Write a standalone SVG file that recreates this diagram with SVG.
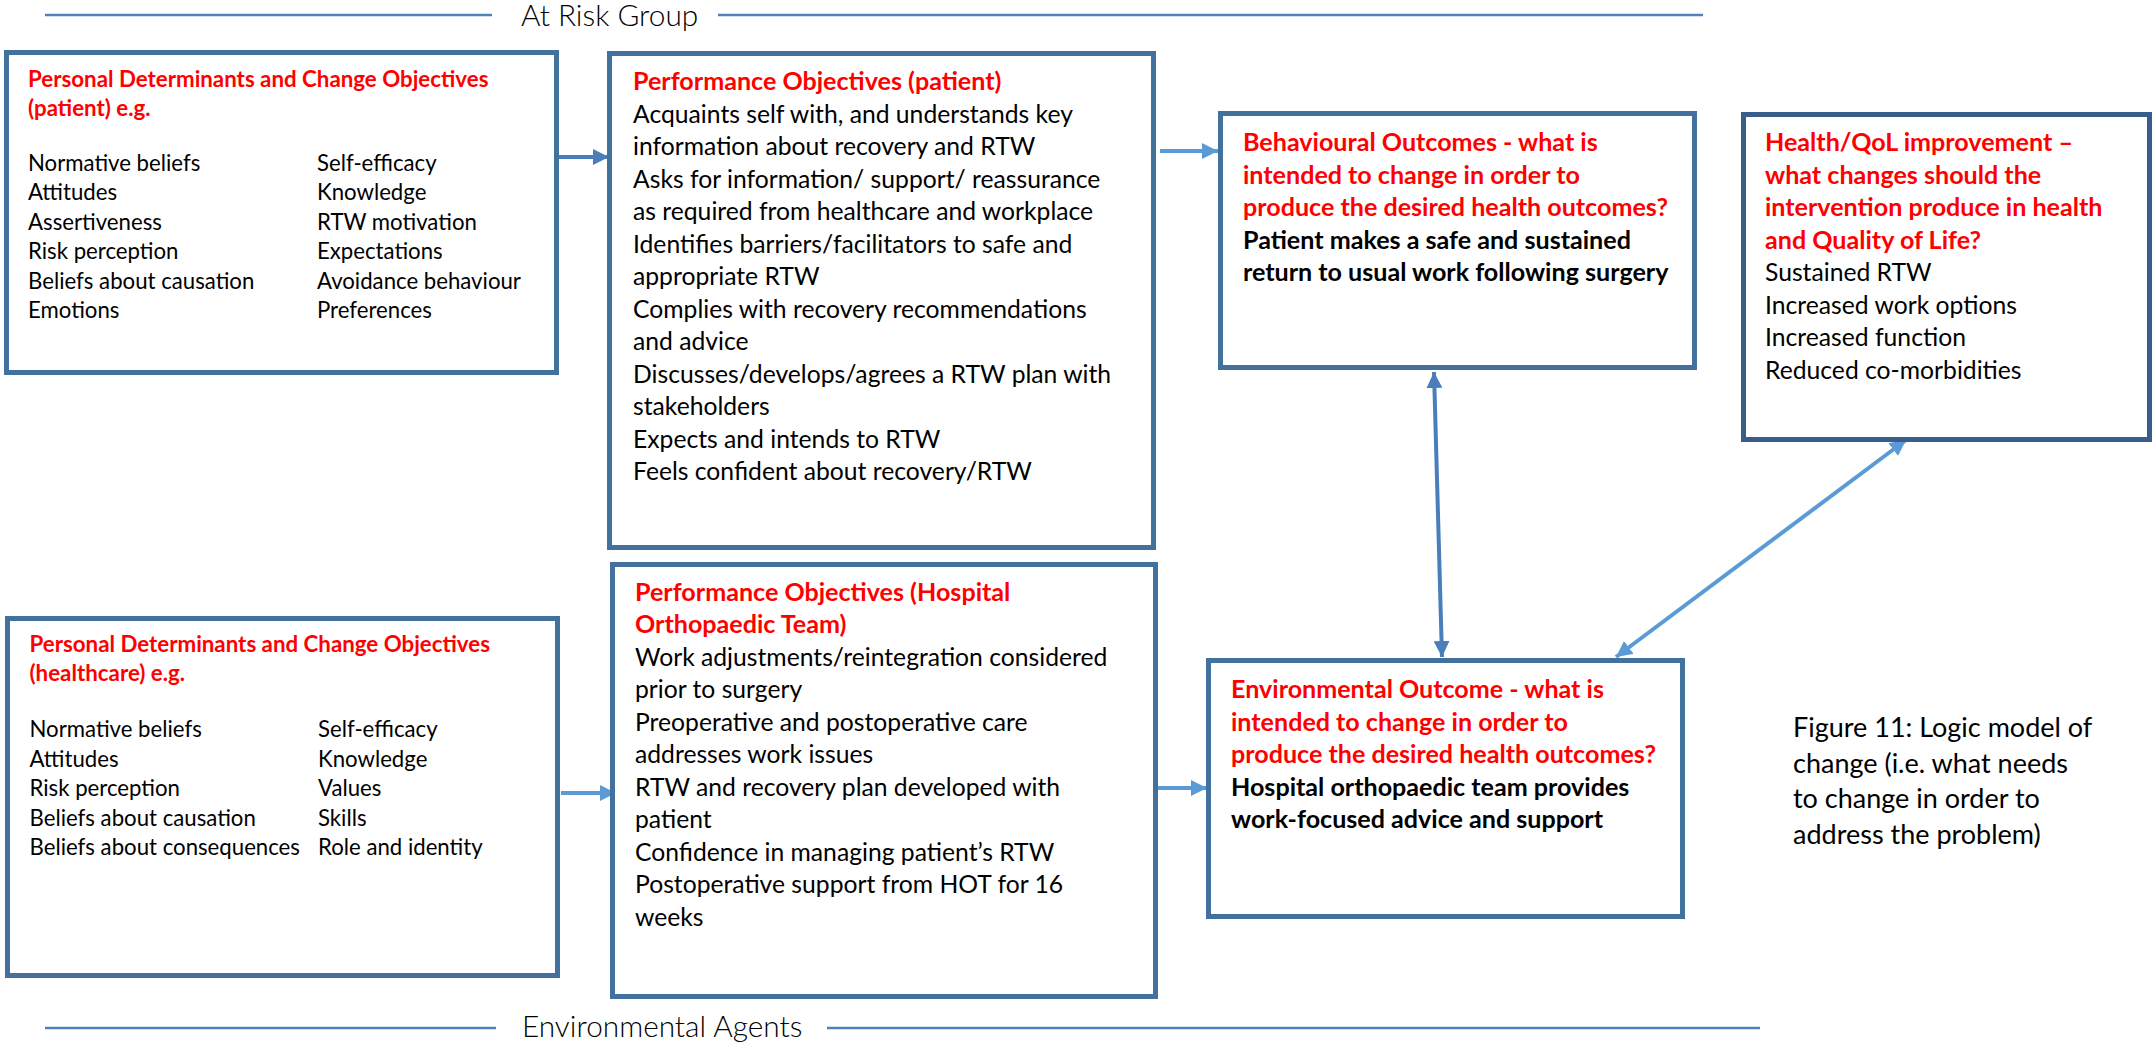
<svg xmlns="http://www.w3.org/2000/svg" width="2156" height="1048" viewBox="0 0 2156 1048">
  <style>
    text { font-family: Lato, "Liberation Sans", "DejaVu Sans", sans-serif; fill: #000000; }
    .sm { font-size: 22.2px; }
    .sm.b { font-size: 22.3px; }
    .md { font-size: 24.7px; }
    .md.b { font-size: 25.1px; }
    .cap { font-size: 27px; }
    .hdr { font-size: 29.8px; font-weight: 300; }
    .b { font-weight: bold; }
    .red { fill: #FF0000; }
    .box { fill: #FFFFFF; stroke: #41719C; stroke-width: 5; }
    .box-dark { fill: #FFFFFF; stroke: #385D8A; stroke-width: 5; }
    .rule { stroke: #4F81BD; stroke-width: 2.5; fill: none; }
    .link-dark { stroke: #4A7EBB; stroke-width: 4; fill: none; }
    .link-light { stroke: #5B9BD5; stroke-width: 4; fill: none; }
  </style>
  <defs>
    <marker id="head-dark" viewBox="0 0 10 10" refX="10" refY="5" markerWidth="16" markerHeight="16" markerUnits="userSpaceOnUse" orient="auto-start-reverse">
      <path d="M0,0 L10,5 L0,10 z" fill="#4A7EBB"/>
    </marker>
    <marker id="head-light" viewBox="0 0 10 10" refX="10" refY="5" markerWidth="16" markerHeight="16" markerUnits="userSpaceOnUse" orient="auto-start-reverse">
      <path d="M0,0 L10,5 L0,10 z" fill="#5B9BD5"/>
    </marker>
  </defs>
  <rect x="0" y="0" width="2156" height="1048" fill="#FFFFFF"/>

  <!-- band labels -->
  <g id="band-top">
    <line class="rule" x1="45" y1="15" x2="492" y2="15"/>
    <text class="hdr" x="521" y="26">At Risk Group</text>
    <line class="rule" x1="718" y1="15" x2="1703" y2="15"/>
  </g>
  <g id="band-bottom">
    <line class="rule" x1="45" y1="1028" x2="496" y2="1028"/>
    <text class="hdr" x="522" y="1037">Environmental Agents</text>
    <line class="rule" x1="827" y1="1028" x2="1760" y2="1028"/>
  </g>

  <!-- connectors -->
  <g id="connectors">
    <line class="link-dark" x1="559" y1="157" x2="609" y2="157" marker-end="url(#head-dark)"/>
    <line class="link-light" x1="1160" y1="151" x2="1218" y2="151" marker-end="url(#head-light)"/>
    <line class="link-dark" x1="1434" y1="372" x2="1442" y2="657" marker-start="url(#head-dark)" marker-end="url(#head-dark)"/>
    <line class="link-light" x1="1906" y1="440" x2="1616" y2="657" marker-start="url(#head-light)" marker-end="url(#head-light)"/>
    <line class="link-light" x1="561" y1="793" x2="616" y2="793" marker-end="url(#head-light)"/>
    <line class="link-light" x1="1154" y1="788" x2="1207" y2="788" marker-end="url(#head-light)"/>
  </g>

  <!-- personal determinants: patient -->
  <g id="determinants-patient">
    <rect class="box" x="6.5" y="52.5" width="550" height="320"/>
    <text class="sm b red">
      <tspan x="28" y="87">Personal Determinants and Change Objectives</tspan>
      <tspan x="28" y="116">(patient) e.g.</tspan>
    </text>
    <text class="sm">
      <tspan x="28" y="171">Normative beliefs</tspan>
      <tspan x="28" y="200.4">Attitudes</tspan>
      <tspan x="28" y="229.8">Assertiveness</tspan>
      <tspan x="28" y="259.2">Risk perception</tspan>
      <tspan x="28" y="288.6">Beliefs about causation</tspan>
      <tspan x="28" y="318">Emotions</tspan>
    </text>
    <text class="sm">
      <tspan x="317" y="171">Self-efficacy</tspan>
      <tspan x="317" y="200.4">Knowledge</tspan>
      <tspan x="317" y="229.8">RTW motivation</tspan>
      <tspan x="317" y="259.2">Expectations</tspan>
      <tspan x="317" y="288.6">Avoidance behaviour</tspan>
      <tspan x="317" y="318">Preferences</tspan>
    </text>
  </g>

  <!-- performance objectives: patient -->
  <g id="performance-patient">
    <rect class="box" x="609.5" y="53.5" width="544" height="494"/>
    <text class="md b red" x="633" y="90">Performance Objectives (patient)</text>
    <text class="md">
      <tspan x="633" y="122.5">Acquaints self with, and understands key</tspan>
      <tspan x="633" y="155">information about recovery and RTW</tspan>
      <tspan x="633" y="187.5">Asks for information/ support/ reassurance</tspan>
      <tspan x="633" y="220">as required from healthcare and workplace</tspan>
      <tspan x="633" y="252.5">Identifies barriers/facilitators to safe and</tspan>
      <tspan x="633" y="285">appropriate RTW</tspan>
      <tspan x="633" y="317.5">Complies with recovery recommendations</tspan>
      <tspan x="633" y="350">and advice</tspan>
      <tspan x="633" y="382.5">Discusses/develops/agrees a RTW plan with</tspan>
      <tspan x="633" y="415">stakeholders</tspan>
      <tspan x="633" y="447.5">Expects and intends to RTW</tspan>
      <tspan x="633" y="480">Feels confident about recovery/RTW</tspan>
    </text>
  </g>

  <!-- behavioural outcomes -->
  <g id="behavioural-outcomes">
    <rect class="box" x="1220.5" y="113.5" width="474" height="254"/>
    <text class="md b red">
      <tspan x="1243" y="151">Behavioural Outcomes - what is</tspan>
      <tspan x="1243" y="183.5">intended to change in order to</tspan>
      <tspan x="1243" y="216">produce the desired health outcomes?</tspan>
    </text>
    <text class="md b">
      <tspan x="1243" y="248.5">Patient makes a safe and sustained</tspan>
      <tspan x="1243" y="281">return to usual work following surgery</tspan>
    </text>
  </g>

  <!-- health / quality of life -->
  <g id="health-qol">
    <rect class="box-dark" x="1743.5" y="114.5" width="406" height="325"/>
    <text class="md b red">
      <tspan x="1765" y="151">Health/QoL improvement –</tspan>
      <tspan x="1765" y="183.5">what changes should the</tspan>
      <tspan x="1765" y="216">intervention produce in health</tspan>
      <tspan x="1765" y="248.5">and Quality of Life?</tspan>
    </text>
    <text class="md">
      <tspan x="1765" y="281">Sustained RTW</tspan>
      <tspan x="1765" y="313.5">Increased work options</tspan>
      <tspan x="1765" y="346">Increased function</tspan>
      <tspan x="1765" y="378.5">Reduced co-morbidities</tspan>
    </text>
  </g>

  <!-- personal determinants: healthcare -->
  <g id="determinants-healthcare">
    <rect class="box" x="7.5" y="618.5" width="550" height="357"/>
    <text class="sm b red">
      <tspan x="29.5" y="652">Personal Determinants and Change Objectives</tspan>
      <tspan x="29.5" y="681">(healthcare) e.g.</tspan>
    </text>
    <text class="sm">
      <tspan x="29.5" y="737">Normative beliefs</tspan>
      <tspan x="29.5" y="766.5">Attitudes</tspan>
      <tspan x="29.5" y="796">Risk perception</tspan>
      <tspan x="29.5" y="825.5">Beliefs about causation</tspan>
      <tspan x="29.5" y="855">Beliefs about consequences</tspan>
    </text>
    <text class="sm">
      <tspan x="318" y="737">Self-efficacy</tspan>
      <tspan x="318" y="766.5">Knowledge</tspan>
      <tspan x="318" y="796">Values</tspan>
      <tspan x="318" y="825.5">Skills</tspan>
      <tspan x="318" y="855">Role and identity</tspan>
    </text>
  </g>

  <!-- performance objectives: hospital orthopaedic team -->
  <g id="performance-hot">
    <rect class="box" x="612.5" y="564.5" width="543" height="432"/>
    <text class="md b red">
      <tspan x="635" y="600.5">Performance Objectives (Hospital</tspan>
      <tspan x="635" y="633">Orthopaedic Team)</tspan>
    </text>
    <text class="md">
      <tspan x="635" y="665.5">Work adjustments/reintegration considered</tspan>
      <tspan x="635" y="698">prior to surgery</tspan>
      <tspan x="635" y="730.5">Preoperative and postoperative care</tspan>
      <tspan x="635" y="763">addresses work issues</tspan>
      <tspan x="635" y="795.5">RTW and recovery plan developed with</tspan>
      <tspan x="635" y="828">patient</tspan>
      <tspan x="635" y="860.5">Confidence in managing patient’s RTW</tspan>
      <tspan x="635" y="893">Postoperative support from HOT for 16</tspan>
      <tspan x="635" y="925.5">weeks</tspan>
    </text>
  </g>

  <!-- environmental outcome -->
  <g id="environmental-outcome">
    <rect class="box" x="1208.5" y="660.5" width="474" height="256"/>
    <text class="md b red">
      <tspan x="1231" y="698">Environmental Outcome - what is</tspan>
      <tspan x="1231" y="730.5">intended to change in order to</tspan>
      <tspan x="1231" y="763">produce the desired health outcomes?</tspan>
    </text>
    <text class="md b">
      <tspan x="1231" y="795.5">Hospital orthopaedic team provides</tspan>
      <tspan x="1231" y="828">work-focused advice and support</tspan>
    </text>
  </g>

  <!-- figure caption -->
  <g id="caption">
    <text class="cap">
      <tspan x="1793" y="737">Figure 11: Logic model of</tspan>
      <tspan x="1793" y="772.5">change (i.e. what needs</tspan>
      <tspan x="1793" y="808">to change in order to</tspan>
      <tspan x="1793" y="843.5">address the problem)</tspan>
    </text>
  </g>
</svg>
